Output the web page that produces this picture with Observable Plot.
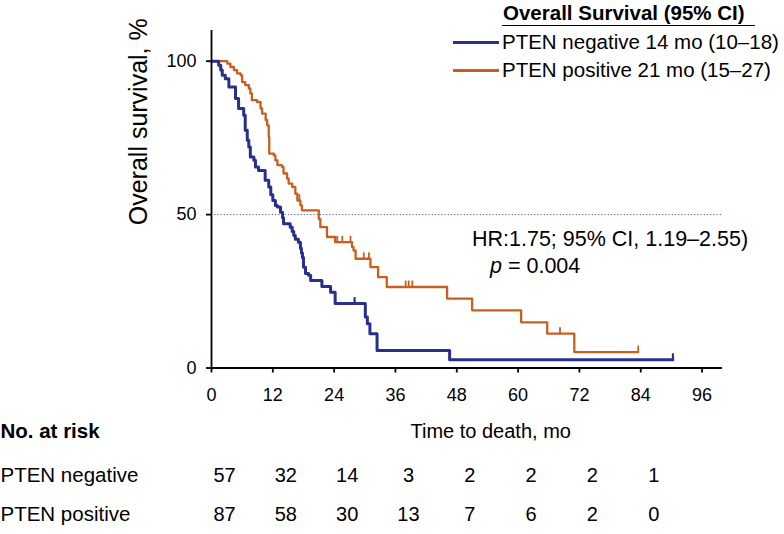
<!DOCTYPE html>
<html>
<head>
<meta charset="utf-8">
<script src="https://cdn.jsdelivr.net/npm/d3@7"></script>
<script src="https://cdn.jsdelivr.net/npm/@observablehq/plot@0.6"></script>
<style>
  html, body { margin: 0; padding: 0; background: #fff; }
  body { font-family: "Liberation Sans", Arial, Helvetica, sans-serif; color: #000; }
  #wrap { position: relative; width: 784px; height: 534px; overflow: hidden; }
  #wrap svg { position: absolute; left: 0; top: 0; }
  .ov { position: absolute; white-space: nowrap; line-height: 1; }
  .lg-title { font-weight: bold; font-size: 20.5px; }
  .lg-rule { position: absolute; height: 1.5px; background: #000; }
  .lg-line { position: absolute; height: 3px; }
  .lg-text { font-size: 20.5px; }
  .ann { font-size: 21.5px; }
  svg g[aria-label$="tick"] { stroke-width: 1.8; }
  svg .tick line { stroke-width: 1.8; }
</style>
</head>
<body>
<div id="wrap"></div>
<script>
// ---------- data ----------
const xTicks = [0, 12, 24, 36, 48, 60, 72, 84, 96];
const yTicks = [0, 50, 100];

const groups = ["PTEN negative", "PTEN positive"];
const legendLabels = ["PTEN negative 14 mo (10\u201318)", "PTEN positive 21 mo (15\u201327)"];

// PTEN negative Kaplan–Meier steps (months, % surviving)
const negTime = [0, 1.4, 1.8, 2.1, 2.7, 3.4, 4.7, 5.3, 6.3, 6.6, 7.0, 7.3, 7.6, 8.3, 8.6, 9.2, 10.5, 11.2, 11.6, 12.0, 12.5, 12.9, 13.5, 13.9, 14.1, 15.4, 15.8, 16.1, 16.4, 17.0, 17.4, 17.6, 17.8, 18.0, 18.4, 19.0, 19.4, 21.6, 23.3, 24.2, 30.1, 30.5, 31.0, 32.4, 46.6, 90.3];
const negSurv = [100, 98.7, 97.1, 95.4, 94.3, 91.6, 87.8, 84.6, 82.4, 77.5, 74.2, 72.0, 68.8, 67.7, 65.5, 64.4, 61.2, 59.0, 56.5, 54.6, 53.0, 52.5, 50.8, 49.0, 47.0, 45.9, 44.5, 43.2, 42.0, 41.0, 39.0, 37.5, 36.0, 32.8, 30.8, 30.2, 28.5, 26.6, 24.7, 21.0, 16.6, 14.4, 11.2, 5.7, 2.7, 2.7];

// PTEN positive Kaplan–Meier steps
const posTime = [0, 3.1, 3.7, 4.4, 5.0, 5.7, 6.0, 6.6, 7.3, 7.6, 7.9, 8.9, 9.6, 9.9, 10.6, 10.9, 11.2, 11.3, 12.2, 12.5, 12.9, 13.8, 14.1, 14.8, 15.1, 15.8, 16.4, 16.8, 17.4, 17.7, 21.0, 21.3, 22.6, 24.2, 27.5, 27.8, 28.2, 31.1, 32.6, 34.3, 46.1, 51.0, 60.6, 65.7, 71.0, 83.5];
const posSurv = [100, 99.2, 98.1, 97.1, 96.0, 95.4, 93.2, 92.2, 91.1, 89.5, 87.3, 86.7, 84.6, 82.9, 80.8, 79.1, 75.3, 69.9, 69.3, 67.7, 66.1, 65.5, 63.4, 61.7, 60.1, 59.0, 56.8, 54.6, 53.0, 51.4, 48.5, 45.9, 42.7, 41.0, 39.4, 38.3, 35.6, 32.9, 29.6, 26.4, 22.6, 18.8, 14.9, 11.2, 5.2, 5.2];

// censored observations
const negCensorTime = [28.0, 90.3];
const negCensorSurv = [21.0, 2.7];
const posCensorTime = [17.2, 24.6, 25.6, 27.2, 29.8, 30.8, 38.0, 38.6, 39.3, 68.2, 83.5];
const posCensorSurv = [54.6, 41.0, 41.0, 41.0, 35.6, 35.6, 26.4, 26.4, 26.4, 11.2, 5.2];

// number at risk
const riskTimes = [0, 12, 24, 36, 48, 60, 72, 84];
const riskNeg = [57, 32, 14, 3, 2, 2, 2, 1];
const riskPos = [87, 58, 30, 13, 7, 6, 2, 0];

const medianLevel = 50;

// ---------- build ----------
const BLUE = "#2a2f8c";
const ORANGE = "#c6601e";

const neg = negTime.map((t, i) => ({t, s: negSurv[i]}));
const pos = posTime.map((t, i) => ({t, s: posSurv[i]}));
const negC = negCensorTime.map((t, i) => ({t, s: negCensorSurv[i]}));
const posC = posCensorTime.map((t, i) => ({t, s: posCensorSurv[i]}));

const censorSymbol = {
  draw(context, size) {
    const h = Math.sqrt(size / Math.PI) * 2;
    context.moveTo(0, 0);
    context.lineTo(0, -h);
  }
};

const FONT = "'Liberation Sans', Arial, Helvetica, sans-serif";

const chart = Plot.plot({
  width: 784,
  height: 534,
  marginLeft: 211,
  marginRight: 62,
  marginTop: 30,
  marginBottom: 166.5,
  style: {fontFamily: FONT, fontSize: "18px", color: "#000", background: "#fff", overflow: "visible"},
  x: {domain: [0, 100], ticks: xTicks, tickSize: 5, tickPadding: 15, tickFormat: d => String(d), label: null},
  y: {domain: [0, 110], ticks: yTicks, tickSize: 5, tickPadding: 10, tickFormat: d => String(d), label: null},
  marks: [
    Plot.ruleY([medianLevel], {stroke: "#4d52aa", strokeWidth: 1, strokeDasharray: "1.2,2"}),
    Plot.line(pos, {x: "t", y: "s", curve: "step-after", stroke: ORANGE, strokeWidth: 2.3}),
    Plot.line(neg, {x: "t", y: "s", curve: "step-after", stroke: BLUE, strokeWidth: 3}),
    Plot.dot(posC, {x: "t", y: "s", symbol: censorSymbol, r: 3.2, fill: "none", stroke: ORANGE, strokeWidth: 1.8}),
    Plot.dot(negC, {x: "t", y: "s", symbol: censorSymbol, r: 3.2, fill: "none", stroke: BLUE, strokeWidth: 2.2}),
    Plot.ruleX([0], {stroke: "#000", strokeWidth: 1.8}),
    Plot.ruleY([0], {stroke: "#000", strokeWidth: 1.8}),
    // y-axis title
    Plot.text(["Overall survival, %"], {frameAnchor: "left", rotate: -90, dx: -73, dy: 26, fontSize: 25, fill: "#000"}),
    // risk table
    Plot.text(["No. at risk"], {frameAnchor: "bottom-left", dx: -211, dy: 70, textAnchor: "start", fontWeight: "bold", fontSize: 20.5, fill: "#000"}),
    Plot.text(["Time to death, mo"], {frameAnchor: "bottom-left", dx: 199, dy: 70, textAnchor: "start", fontSize: 20, fill: "#000"}),
    Plot.text([groups[0]], {frameAnchor: "bottom-left", dx: -211, dy: 114, textAnchor: "start", fontSize: 20.5, fill: "#000"}),
    Plot.text([groups[1]], {frameAnchor: "bottom-left", dx: -211, dy: 153, textAnchor: "start", fontSize: 20.5, fill: "#000"}),
    Plot.text(riskTimes, {x: d => d, text: (d, i) => String(riskNeg[i]), frameAnchor: "bottom", dx: 13, dy: 114, fontSize: 20, fill: "#000"}),
    Plot.text(riskTimes, {x: d => d, text: (d, i) => String(riskPos[i]), frameAnchor: "bottom", dx: 13, dy: 153, fontSize: 20, fill: "#000"})
  ]
});

const wrap = document.getElementById("wrap");
wrap.appendChild(chart);

// legend + annotation overlays
function add(html, cls, styleStr) {
  const d = document.createElement("div");
  d.className = cls;
  d.setAttribute("style", styleStr);
  d.innerHTML = html;
  wrap.appendChild(d);
  return d;
}
add("Overall Survival (95% CI)", "ov lg-title", "left:503px;top:3px;");
add("", "lg-rule", "left:502px;top:24.5px;width:253px;");
add("", "lg-line", `left:453px;top:40.5px;width:46px;background:${BLUE};`);
add(legendLabels[0], "ov lg-text", "left:502px;top:32px;");
add("", "lg-line", `left:453px;top:68.5px;width:46px;background:${ORANGE};`);
add(legendLabels[1], "ov lg-text", "left:502px;top:60px;");
add("HR:1.75; 95% CI, 1.19\u20132.55)", "ov ann", "left:472px;top:228.5px;");
add("<i>p</i> = 0.004", "ov ann", "left:490px;top:256px;");
</script>
</body>
</html>
